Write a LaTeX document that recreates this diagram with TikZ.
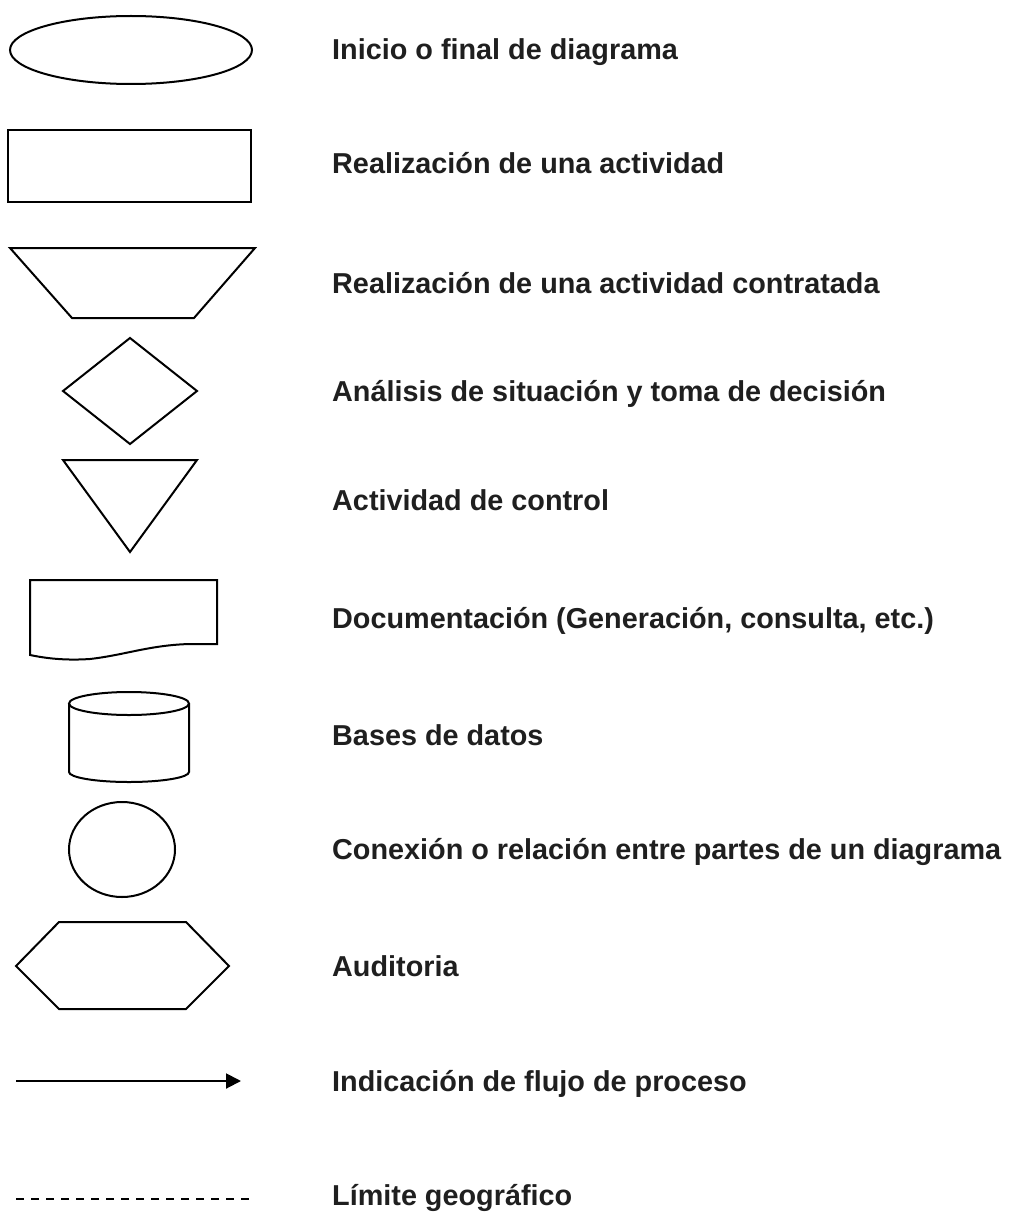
\documentclass[tikz,border=0pt]{standalone}
\usepackage{fontspec}
\setmainfont{Liberation Sans}
\usetikzlibrary{arrows.meta}
\begin{document}
\begin{tikzpicture}[x=1pt,y=-1pt,
  shp/.style={draw=black,line width=2pt,line join=miter},
  lbl/.style={anchor=base west,inner sep=0pt,font=\fontsize{28.8}{34}\selectfont\bfseries,text=black!88}]
\useasboundingbox (0,0) rectangle (1018,1212);
% shapes
\draw[shp] (131,50) ellipse [x radius=121, y radius=34];
\draw[shp] (8,130) rectangle (251,202);
\draw[shp] (10,248) -- (255,248) -- (194,318) -- (72,318) -- cycle;
\draw[shp] (130,338) -- (197,391) -- (130,444) -- (63,391) -- cycle;
\draw[shp] (63,460) -- (197,460) -- (130,552) -- cycle;
\draw[shp] (30,580) -- (217,580) -- (217,644) -- (190,644)
  .. controls (150,645) and (125,655) .. (90,659)
  .. controls (60,661) and (40,657) .. (30,655) -- cycle;
\draw[shp] (69,703.5) -- (69,772) arc [start angle=180, end angle=0, x radius=60, y radius=10] -- (189,703.5);
\draw[shp] (129,703.5) ellipse [x radius=60, y radius=11.5];
\draw[shp] (122,849.5) ellipse [x radius=53, y radius=47.5];
\draw[shp] (59,922) -- (186,922) -- (229,966) -- (186,1009) -- (59,1009) -- (16,966) -- cycle;
\coordinate (a1) at (16,1081);
\coordinate (a2) at (241,1081);
\draw[line width=2pt,-{Triangle[length=15pt,width=15pt]}] (a1) -- (a2);
\coordinate (d1) at (16,1199);
\coordinate (d2) at (249,1199);
\draw[line width=2pt,dash pattern=on 8pt off 7pt] (d1) -- (d2);
% labels
\node[lbl] (t1) at (332,60) {Inicio o final de diagrama};
\node[lbl] (t2) at (332,173) {Realización de una actividad};
\node[lbl] (t3) at (332,293) {Realización de una actividad contratada};
\node[lbl] (t4) at (332,401) {Análisis de situación y toma de decisión};
\node[lbl] (t5) at (332,510) {Actividad de control};
\node[lbl] (t6) at (332,628) {Documentación (Generación, consulta, etc.)};
\node[lbl] (t7) at (332,745) {Bases de datos};
\node[lbl] (t8) at (332,859) {Conexión o relación entre partes de un diagrama};
\node[lbl] (t9) at (332,976) {Auditoria};
\node[lbl] (t10) at (332,1091) {Indicación de flujo de proceso};
\node[lbl] (t11) at (332,1205) {Límite geográfico};
\end{tikzpicture}
\end{document}
